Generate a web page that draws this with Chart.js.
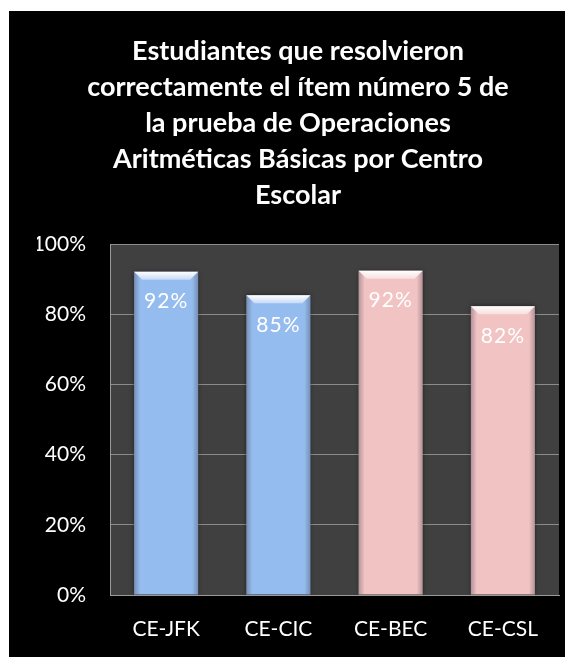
<!DOCTYPE html>
<html lang="es">
<head>
<meta charset="UTF-8">
<title>Ítem 5 por Centro Escolar</title>
<script src="https://cdn.jsdelivr.net/npm/chart.js"></script>
<style>
  html, body {
    margin: 0;
    padding: 0;
    background: #fff;
  }
  .chart-box {
    position: absolute;
    left: 9px;
    top: 11px;
    width: 556px;
    height: 646px;
    background: #000;
  }
</style>
</head>
<body>
<div class="chart-box"><canvas id="itemChart"></canvas></div>
<script>
const centros = ["CE-JFK", "CE-CIC", "CE-BEC", "CE-CSL"];
const porcentajes = [92.1, 85.4, 92.4, 82.3];
const coloresBarra = ["#95bcee", "#95bcee", "#f2c3c3", "#f2c3c3"];
const titulo = [
  "Estudiantes que resolvieron",
  "correctamente el ítem número 5 de",
  "la prueba de Operaciones",
  "Aritméticas Básicas por Centro",
  "Escolar"
];

const fuente = "Lato, 'Open Sans', sans-serif";

// fondo gris del área de trazado
const fondoPlot = {
  id: "fondoPlot",
  beforeDraw(chart) {
    const { ctx, chartArea: a } = chart;
    ctx.save();
    ctx.fillStyle = "#404040";
    ctx.fillRect(a.left, a.top, a.right - a.left, a.bottom - a.top);
    ctx.restore();
  }
};

// sombra suave alrededor de las barras
const sombra = {
  id: "sombra",
  beforeDatasetsDraw(chart) {
    const ctx = chart.ctx;
    ctx.save();
    ctx.shadowColor = "rgba(0,0,0,0.55)";
    ctx.shadowBlur = 5;
  },
  afterDatasetsDraw(chart) {
    chart.ctx.restore();
  }
};

// bisel superior, bordes y etiquetas de valor
const bisel = {
  id: "bisel",
  afterDatasetsDraw(chart) {
    const ctx = chart.ctx;
    const meta = chart.getDatasetMeta(0);
    meta.data.forEach((bar, i) => {
      const { x, y, base, width } = bar.getProps(["x", "y", "base", "width"], true);
      const l = x - width / 2, r = x + width / 2, b = 8;
      ctx.save();
      // bordes laterales más oscuros
      let g = ctx.createLinearGradient(l, 0, l + 6, 0);
      g.addColorStop(0, "rgba(60,60,80,0.35)");
      g.addColorStop(1, "rgba(60,60,80,0)");
      ctx.fillStyle = g;
      ctx.fillRect(l, y, 6, base - y);
      g = ctx.createLinearGradient(r - 6, 0, r, 0);
      g.addColorStop(0, "rgba(60,60,80,0)");
      g.addColorStop(1, "rgba(60,60,80,0.35)");
      ctx.fillStyle = g;
      ctx.fillRect(r - 6, y, 6, base - y);
      // cara superior del bisel
      g = ctx.createLinearGradient(0, y, 0, y + b);
      g.addColorStop(0, "rgba(255,255,255,1)");
      g.addColorStop(1, "rgba(255,255,255,0.45)");
      ctx.fillStyle = g;
      ctx.beginPath();
      ctx.moveTo(l, y);
      ctx.lineTo(r, y);
      ctx.lineTo(r - b, y + b);
      ctx.lineTo(l + b, y + b);
      ctx.closePath();
      ctx.fill();
      // etiqueta
      ctx.fillStyle = "#fff";
      ctx.font = "21px " + fuente;
      ctx.letterSpacing = "1px";
      ctx.textAlign = "center";
      ctx.textBaseline = "middle";
      ctx.fillText(Math.round(porcentajes[i]) + "%", x, y + 30);
      ctx.restore();
    });
  }
};

new Chart(document.getElementById("itemChart"), {
  type: "bar",
  data: {
    labels: centros,
    datasets: [{
      data: porcentajes,
      backgroundColor: coloresBarra,
      borderWidth: 0,
      barPercentage: 0.57,
      categoryPercentage: 1
    }]
  },
  options: {
    responsive: true,
    maintainAspectRatio: false,
    animation: false,
    // el título queda un poco a la derecha del centro
    layout: { padding: { left: 28, right: 6, top: 0, bottom: 0 } },
    plugins: {
      legend: { display: false },
      tooltip: { enabled: false },
      title: {
        display: true,
        text: titulo,
        color: "#fff",
        font: { family: fuente, size: 27, weight: "bold", lineHeight: 36 / 27 },
        padding: { top: 22, bottom: 31 }
      }
    },
    scales: {
      x: {
        afterFit(scale) { scale.height = 62; },
        grid: { display: false, drawTicks: false },
        border: { display: true, color: "#9a9a9a", width: 1 },
        ticks: { color: "#fff", font: { family: fuente, size: 21 }, padding: 22 }
      },
      y: {
        min: 0,
        max: 100,
        afterFit(scale) { scale.width = 73; },
        grid: { color: "#8c8c8c", lineWidth: 1, drawTicks: false },
        border: { display: true, color: "#9a9a9a", width: 1 },
        ticks: {
          stepSize: 20,
          color: "#fff",
          padding: 24,
          font: { family: fuente, size: 21 },
          callback: v => v + "%"
        }
      }
    }
  },
  plugins: [fondoPlot, sombra, bisel]
});
</script>
</body>
</html>
